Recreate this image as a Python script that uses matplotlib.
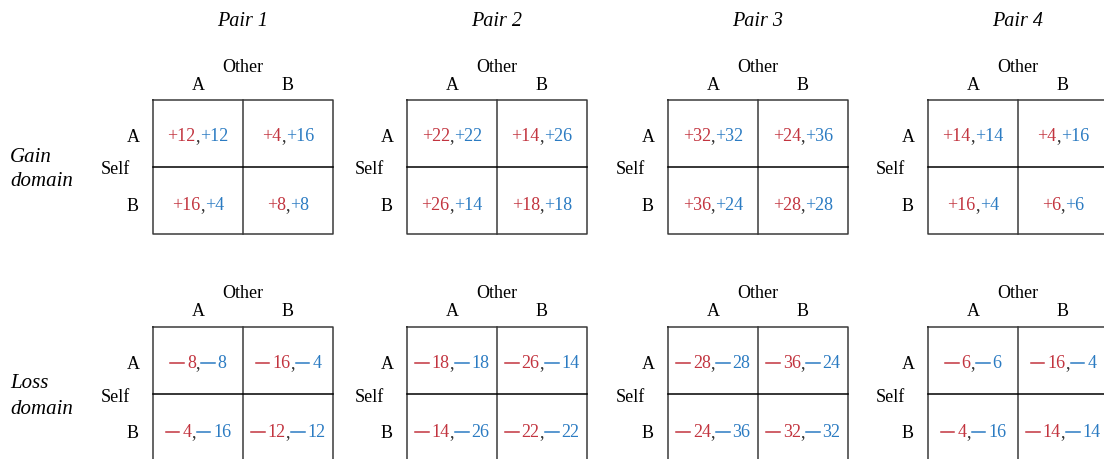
import matplotlib.pyplot as plt
from matplotlib.lines import Line2D
from matplotlib.offsetbox import TextArea, HPacker, DrawingArea, AnnotationBbox

plt.rcParams['font.family'] = ['Liberation Serif', 'DejaVu Serif']

# Payoff data: (self, other) for rows Self A/B, columns Other A/B
pairs = ["Pair 1", "Pair 2", "Pair 3", "Pair 4"]
domains = [["Gain", "domain"], ["Loss", "domain"]]
gain_self = [[[12, 4], [16, 8]],
             [[22, 14], [26, 18]],
             [[32, 24], [36, 28]],
             [[14, 4], [16, 6]]]
gain_other = [[[12, 16], [4, 8]],
              [[22, 26], [14, 18]],
              [[32, 36], [24, 28]],
              [[14, 16], [4, 6]]]
loss_self = [[[-8, -16], [-4, -12]],
             [[-18, -26], [-14, -22]],
             [[-28, -36], [-24, -32]],
             [[-6, -16], [-4, -14]]]
loss_other = [[[-8, -4], [-16, -12]],
              [[-18, -14], [-26, -22]],
              [[-28, -24], [-36, -32]],
              [[-6, -4], [-16, -14]]]
choices = ["A", "B"]

RED = "#c2343f"
BLUE = "#2b7bc2"
LINE = "#3a3a3a"
FS = 13

# layout (pixels)
mat_left = [153, 407, 668, 928]
mat_top = [100, 327]
cw, ch = 90, 67


def number_box(v, color):
    # red/blue payoff; negative numbers get a long dash like the original
    tp = dict(color=color, fontsize=FS, family="Liberation Serif")
    if v > 0:
        return [TextArea("+%d" % v, textprops=tp)]
    dash = DrawingArea(12.5, 7.0, 0, 0)
    dash.add_artist(Line2D([0.6, 10.4], [3.4, 3.4], color=color, lw=1.1))
    return [dash, TextArea("%d" % -v, textprops=tp)]


fig = plt.figure(figsize=(11.04, 4.59), dpi=100)
ax = fig.add_axes([0, 0, 1, 1])
ax.set_xlim(0, 1104)
ax.set_ylim(459, 0)
ax.axis("off")

for p, name in enumerate(pairs):
    x0 = mat_left[p]
    ax.text(x0 + cw, 21, name, ha="center", va="center", fontsize=14.5, style="italic")
    for d in range(2):
        y0 = mat_top[d]
        s_vals = gain_self[p] if d == 0 else loss_self[p]
        o_vals = gain_other[p] if d == 0 else loss_other[p]
        # grid lines
        ax.plot([x0, x0 + 2 * cw, x0 + 2 * cw, x0, x0], [y0, y0, y0 + 2 * ch, y0 + 2 * ch, y0],
                color=LINE, lw=1.1, clip_on=False)
        ax.plot([x0 + cw, x0 + cw], [y0, y0 + 2 * ch], color=LINE, lw=1.1)
        ax.plot([x0, x0 + 2 * cw], [y0 + ch, y0 + ch], color="black", lw=1.1)
        # labels
        ax.text(x0 + cw, y0 - 33, "Other", ha="center", va="center", fontsize=FS)
        ax.text(x0 - 38, y0 + ch + 3, "Self", ha="center", va="center", fontsize=FS)
        for k, c in enumerate(choices):
            ax.text(x0 + cw * k + cw / 2, y0 - 15, c, ha="center", va="center", fontsize=FS)
            ax.text(x0 - 20, y0 + ch * k + ch / 2 + 4 + 2 * k, c, ha="center", va="center", fontsize=FS)
        for i in range(2):
            for j in range(2):
                parts = (number_box(s_vals[i][j], RED)
                         + [TextArea(",", textprops=dict(color="#333333", fontsize=FS, family="Liberation Serif"))]
                         + number_box(o_vals[i][j], BLUE))
                box = HPacker(children=parts, sep=0, pad=0, align="baseline")
                ab = AnnotationBbox(box, (x0 + cw * j + cw / 2, y0 + ch * i + ch / 2 + 3 + 2 * i),
                                    frameon=False, box_alignment=(0.5, 0.5), pad=0)
                ax.add_artist(ab)

for d, lines in enumerate(domains):
    for k, word in enumerate(lines):
        ax.text(10, mat_top[d] + 57 + 25 * k, word, ha="left", va="center", fontsize=15, style="italic")

fig.savefig("out.png", dpi=100)
